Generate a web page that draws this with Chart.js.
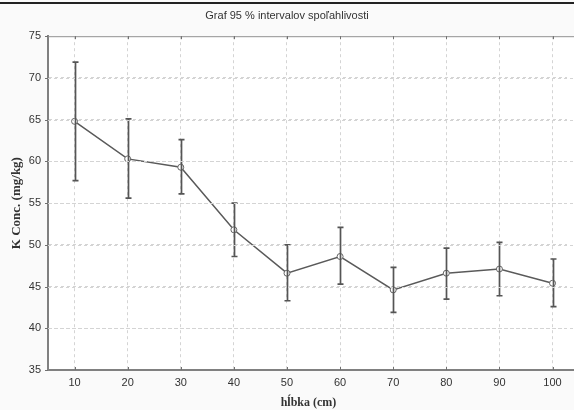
<!DOCTYPE html>
<html>
<head>
<meta charset="utf-8">
<script src="https://cdn.jsdelivr.net/npm/chart.js@4/dist/chart.umd.min.js"></script>
<style>
html,body{margin:0;padding:0;background:#fafafa;overflow:hidden}
canvas{display:block}
</style>
</head>
<body>
<canvas id="c" width="574" height="410"></canvas>
<script>
// hlbka (cm)
const depths = [10,20,30,40,50,60,70,80,90,100]
// priemer a 95 % interval
const means = [64.8,60.3,59.3,51.8,46.6,48.6,44.6,46.6,47.1,45.4]
const upper = [71.9,65.1,62.6,55.0,50.0,52.1,47.3,49.6,50.3,48.3]
const lower = [57.7,55.6,56.1,48.6,43.3,45.3,41.9,43.5,43.9,42.6]
const yTicks = [35,40,45,50,55,60,65,70,75]

const frame = {
    id:"frame",
    beforeDraw(chart){
        const ctx = chart.ctx
        const a = chart.chartArea
        ctx.save()
        ctx.fillStyle="#fafafa"
        ctx.fillRect(0,0,chart.width,chart.height)
        ctx.fillStyle="#ffffff"
        ctx.fillRect(a.left,a.top,chart.width-a.left,a.bottom-a.top)
        ctx.fillStyle="#222"
        ctx.fillRect(0,2,chart.width,2)
        ctx.restore()
    },
    afterDraw(chart){
        const ctx = chart.ctx
        const a = chart.chartArea
        const x = chart.scales.x
        const y = chart.scales.y
        ctx.save()
        // plot area runs to the right edge
        ctx.fillStyle="#ffffff"
        ctx.fillRect(a.right-2,a.top,chart.width-a.right+2,a.bottom-a.top)
        ctx.strokeStyle="#d4d4d4"
        ctx.lineWidth=1
        ctx.setLineDash([3,3])
        ctx.beginPath()
        yTicks.slice(1,-1).forEach(v=>{
            const py = Math.round(y.getPixelForValue(v))+0.5
            ctx.moveTo(a.left,py); ctx.lineTo(chart.width,py)
        })
        ctx.stroke()
        ctx.setLineDash([])
        ctx.strokeStyle="#808080"
        ctx.lineWidth=2
        ctx.beginPath()
        ctx.moveTo(a.left,a.bottom); ctx.lineTo(chart.width,a.bottom)
        ctx.stroke()
        // top border
        ctx.strokeStyle="#909090"
        ctx.lineWidth=1
        ctx.beginPath()
        ctx.moveTo(a.left,a.top+0.5)
        ctx.lineTo(chart.width,a.top+0.5)
        ctx.stroke()
        // inside ticks
        ctx.strokeStyle="#707070"
        ctx.beginPath()
        depths.forEach(d=>{
            const px = Math.round(x.getPixelForValue(d))+0.5
            ctx.moveTo(px,a.top); ctx.lineTo(px,a.top+3)
            ctx.moveTo(px,a.bottom); ctx.lineTo(px,a.bottom-3)
        })
        yTicks.forEach(v=>{
            const py = Math.round(y.getPixelForValue(v))+0.5
            ctx.moveTo(a.left,py); ctx.lineTo(a.left-3,py)
        })
        ctx.stroke()
        ctx.restore()
    },
    afterDatasetsDraw(chart){
        const ctx = chart.ctx
        const x = chart.scales.x
        const y = chart.scales.y
        ctx.save()
        // error bars
        ctx.strokeStyle="#555"
        ctx.lineWidth=1.7
        ctx.beginPath()
        for(let i=0;i<depths.length;i++){
            const px = Math.round(x.getPixelForValue(depths[i]))+0.5
            const top = y.getPixelForValue(upper[i])
            const bot = y.getPixelForValue(lower[i])
            ctx.moveTo(px,top); ctx.lineTo(px,bot)
            ctx.moveTo(px-3,top); ctx.lineTo(px+3,top)
            ctx.moveTo(px-3,bot); ctx.lineTo(px+3,bot)
        }
        ctx.stroke()
        ctx.restore()
    }
}

new Chart(document.getElementById("c"), {
    type:"line",
    data:{
        datasets:[{
            data:depths.map((d,i)=>({x:d,y:means[i]})),
            borderColor:"#5a5a5a",
            borderWidth:1.5,
            pointRadius:3,
            pointBackgroundColor:"#ffffff",
            pointBorderColor:"#666",
            pointBorderWidth:1,
            tension:0
        }]
    },
    options:{
        responsive:false,
        animation:false,
        layout:{padding:0},
        plugins:{
            legend:{display:false},
            tooltip:{enabled:false},
            title:{
                display:true,
                text:"Graf 95 % intervalov spoľahlivosti",
                color:"#333",
                font:{family:"Liberation Sans, Arial, sans-serif",size:11,weight:"normal"},
                padding:{top:9,bottom:14}
            }
        },
        scales:{
            x:{
                type:"linear",
                min:5,
                max:103.1,
                afterBuildTicks:s=>{ s.ticks = depths.map(v=>({value:v})) },
                afterFit:s=>{ s.height = 40 },
                ticks:{color:"#333",padding:6,font:{family:"Liberation Sans, Arial, sans-serif",size:11}},
                grid:{
                    color:c=> (c.tick && depths.includes(c.tick.value)) ? "#d4d4d4" : "rgba(0,0,0,0)",
                    drawTicks:false
                },
                border:{color:"#808080",width:2,dash:[3,3]},
                title:{
                    display:true,
                    text:"hĺbka (cm)",
                    color:"#333",
                    padding:{top:4,bottom:0},
                    font:{family:"Liberation Serif, Times New Roman, serif",size:12,weight:"bold"}
                }
            },
            y:{
                min:35,
                max:75,
                afterBuildTicks:s=>{ s.ticks = yTicks.map(v=>({value:v})) },
                afterFit:s=>{ s.width = 48 },
                ticks:{color:"#333",padding:7,font:{family:"Liberation Sans, Arial, sans-serif",size:11}},
                grid:{
                    color:c=> (c.tick && c.tick.value > 35 && c.tick.value < 75) ? "#d4d4d4" : "rgba(0,0,0,0)",
                    drawTicks:false
                },
                border:{color:"#808080",width:2,dash:[3,3]},
                title:{
                    display:true,
                    text:"K Conc. (mg/kg)",
                    color:"#333",
                    padding:{top:9,bottom:0},
                    font:{family:"Liberation Serif, Times New Roman, serif",size:13,weight:"bold"}
                }
            }
        }
    },
    plugins:[frame]
})
</script>
</body>
</html>
